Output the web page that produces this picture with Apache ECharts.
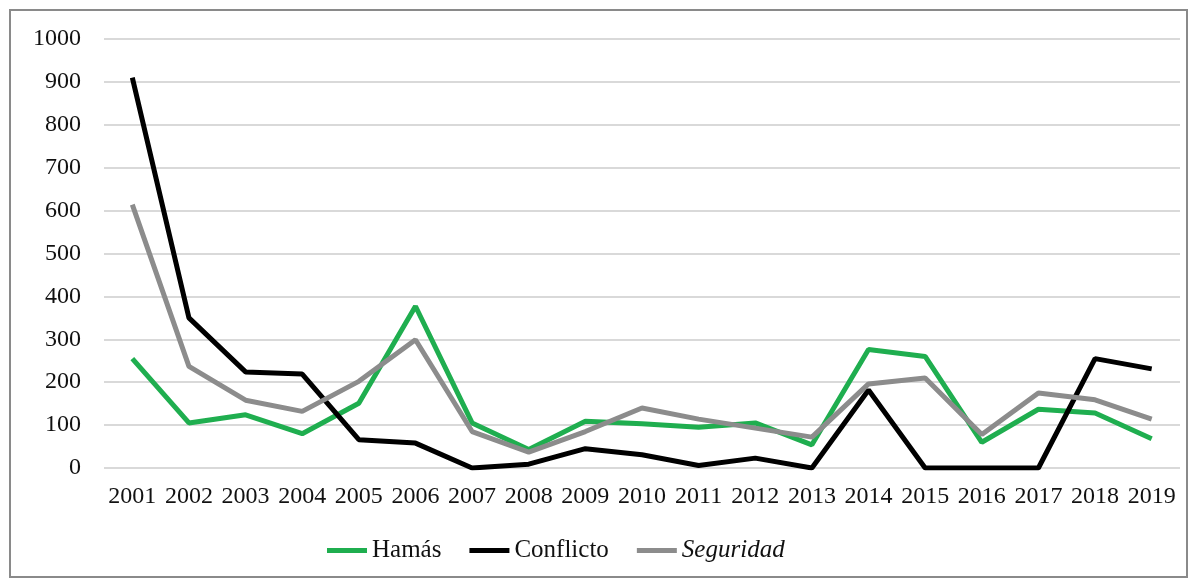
<!DOCTYPE html>
<html>
<head>
<meta charset="utf-8">
<script src="https://cdn.jsdelivr.net/npm/echarts@6/dist/echarts.min.js"></script>
<style>
html,body{margin:0;padding:0;background:#fff;}
#wrap{position:absolute;left:9px;top:9px;width:1179px;height:569px;border:2px solid #8a8a8a;box-sizing:border-box;}
#chart{position:absolute;left:0;top:0;width:1198px;height:585px;}
</style>
</head>
<body>
<div id="wrap"></div>
<div id="chart"></div>
<script>
const years = ['2001','2002','2003','2004','2005','2006','2007','2008','2009','2010','2011','2012','2013','2014','2015','2016','2017','2018','2019'];
const hamas = [255,105,124,80,151,377,105,43,109,103,95,105,54,276,260,60,137,128,68];
const conflicto = [910,350,224,219,66,58,0,9,45,31,6,23,0,182,0,0,0,255,231];
const seguridad = [614,237,158,132,202,299,85,37,85,140,114,93,72,196,210,78,175,159,114];
const yTicks = {min:0, max:1000, interval:100};

const font = 'Liberation Serif';
const chart = echarts.init(document.getElementById('chart'), null, {renderer:'canvas'});
chart.setOption({
  animation:false,
  backgroundColor:'transparent',
  grid:{left:104, right:18, top:39, bottom:117},
  legend:{
    bottom:17, left:322,
    itemWidth:40, itemHeight:5, itemGap:28,
    icon:'rect',
    textStyle:{fontFamily:font, fontSize:25, color:'#111'},
    data:[
      {name:'Hamás'},
      {name:'Conflicto'},
      {name:'Seguridad', textStyle:{fontStyle:'italic', fontFamily:font, fontSize:25, color:'#111'}}
    ]
  },
  xAxis:{
    type:'category', data:years, boundaryGap:true,
    axisLine:{show:false}, axisTick:{show:false},
    axisLabel:{fontFamily:font, fontSize:24, color:'#111', margin:17, interval:0}
  },
  yAxis:{
    type:'value', min:yTicks.min, max:yTicks.max, interval:yTicks.interval,
    axisLine:{show:false}, axisTick:{show:false},
    axisLabel:{fontFamily:font, fontSize:24, color:'#111', margin:23, formatter:function(v){return String(v);}},
    splitLine:{lineStyle:{color:'#d9d9d9', width:2}}
  },
  series:[
    {name:'Hamás', type:'line', data:hamas, showSymbol:false, symbol:'none', lineStyle:{color:'#1fae4f', width:5}, itemStyle:{color:'#1fae4f'}},
    {name:'Conflicto', type:'line', data:conflicto, showSymbol:false, symbol:'none', lineStyle:{color:'#000', width:5}, itemStyle:{color:'#000'}},
    {name:'Seguridad', type:'line', data:seguridad, showSymbol:false, symbol:'none', lineStyle:{color:'#8c8c8c', width:5}, itemStyle:{color:'#8c8c8c'}}
  ]
});
</script>
</body>
</html>
